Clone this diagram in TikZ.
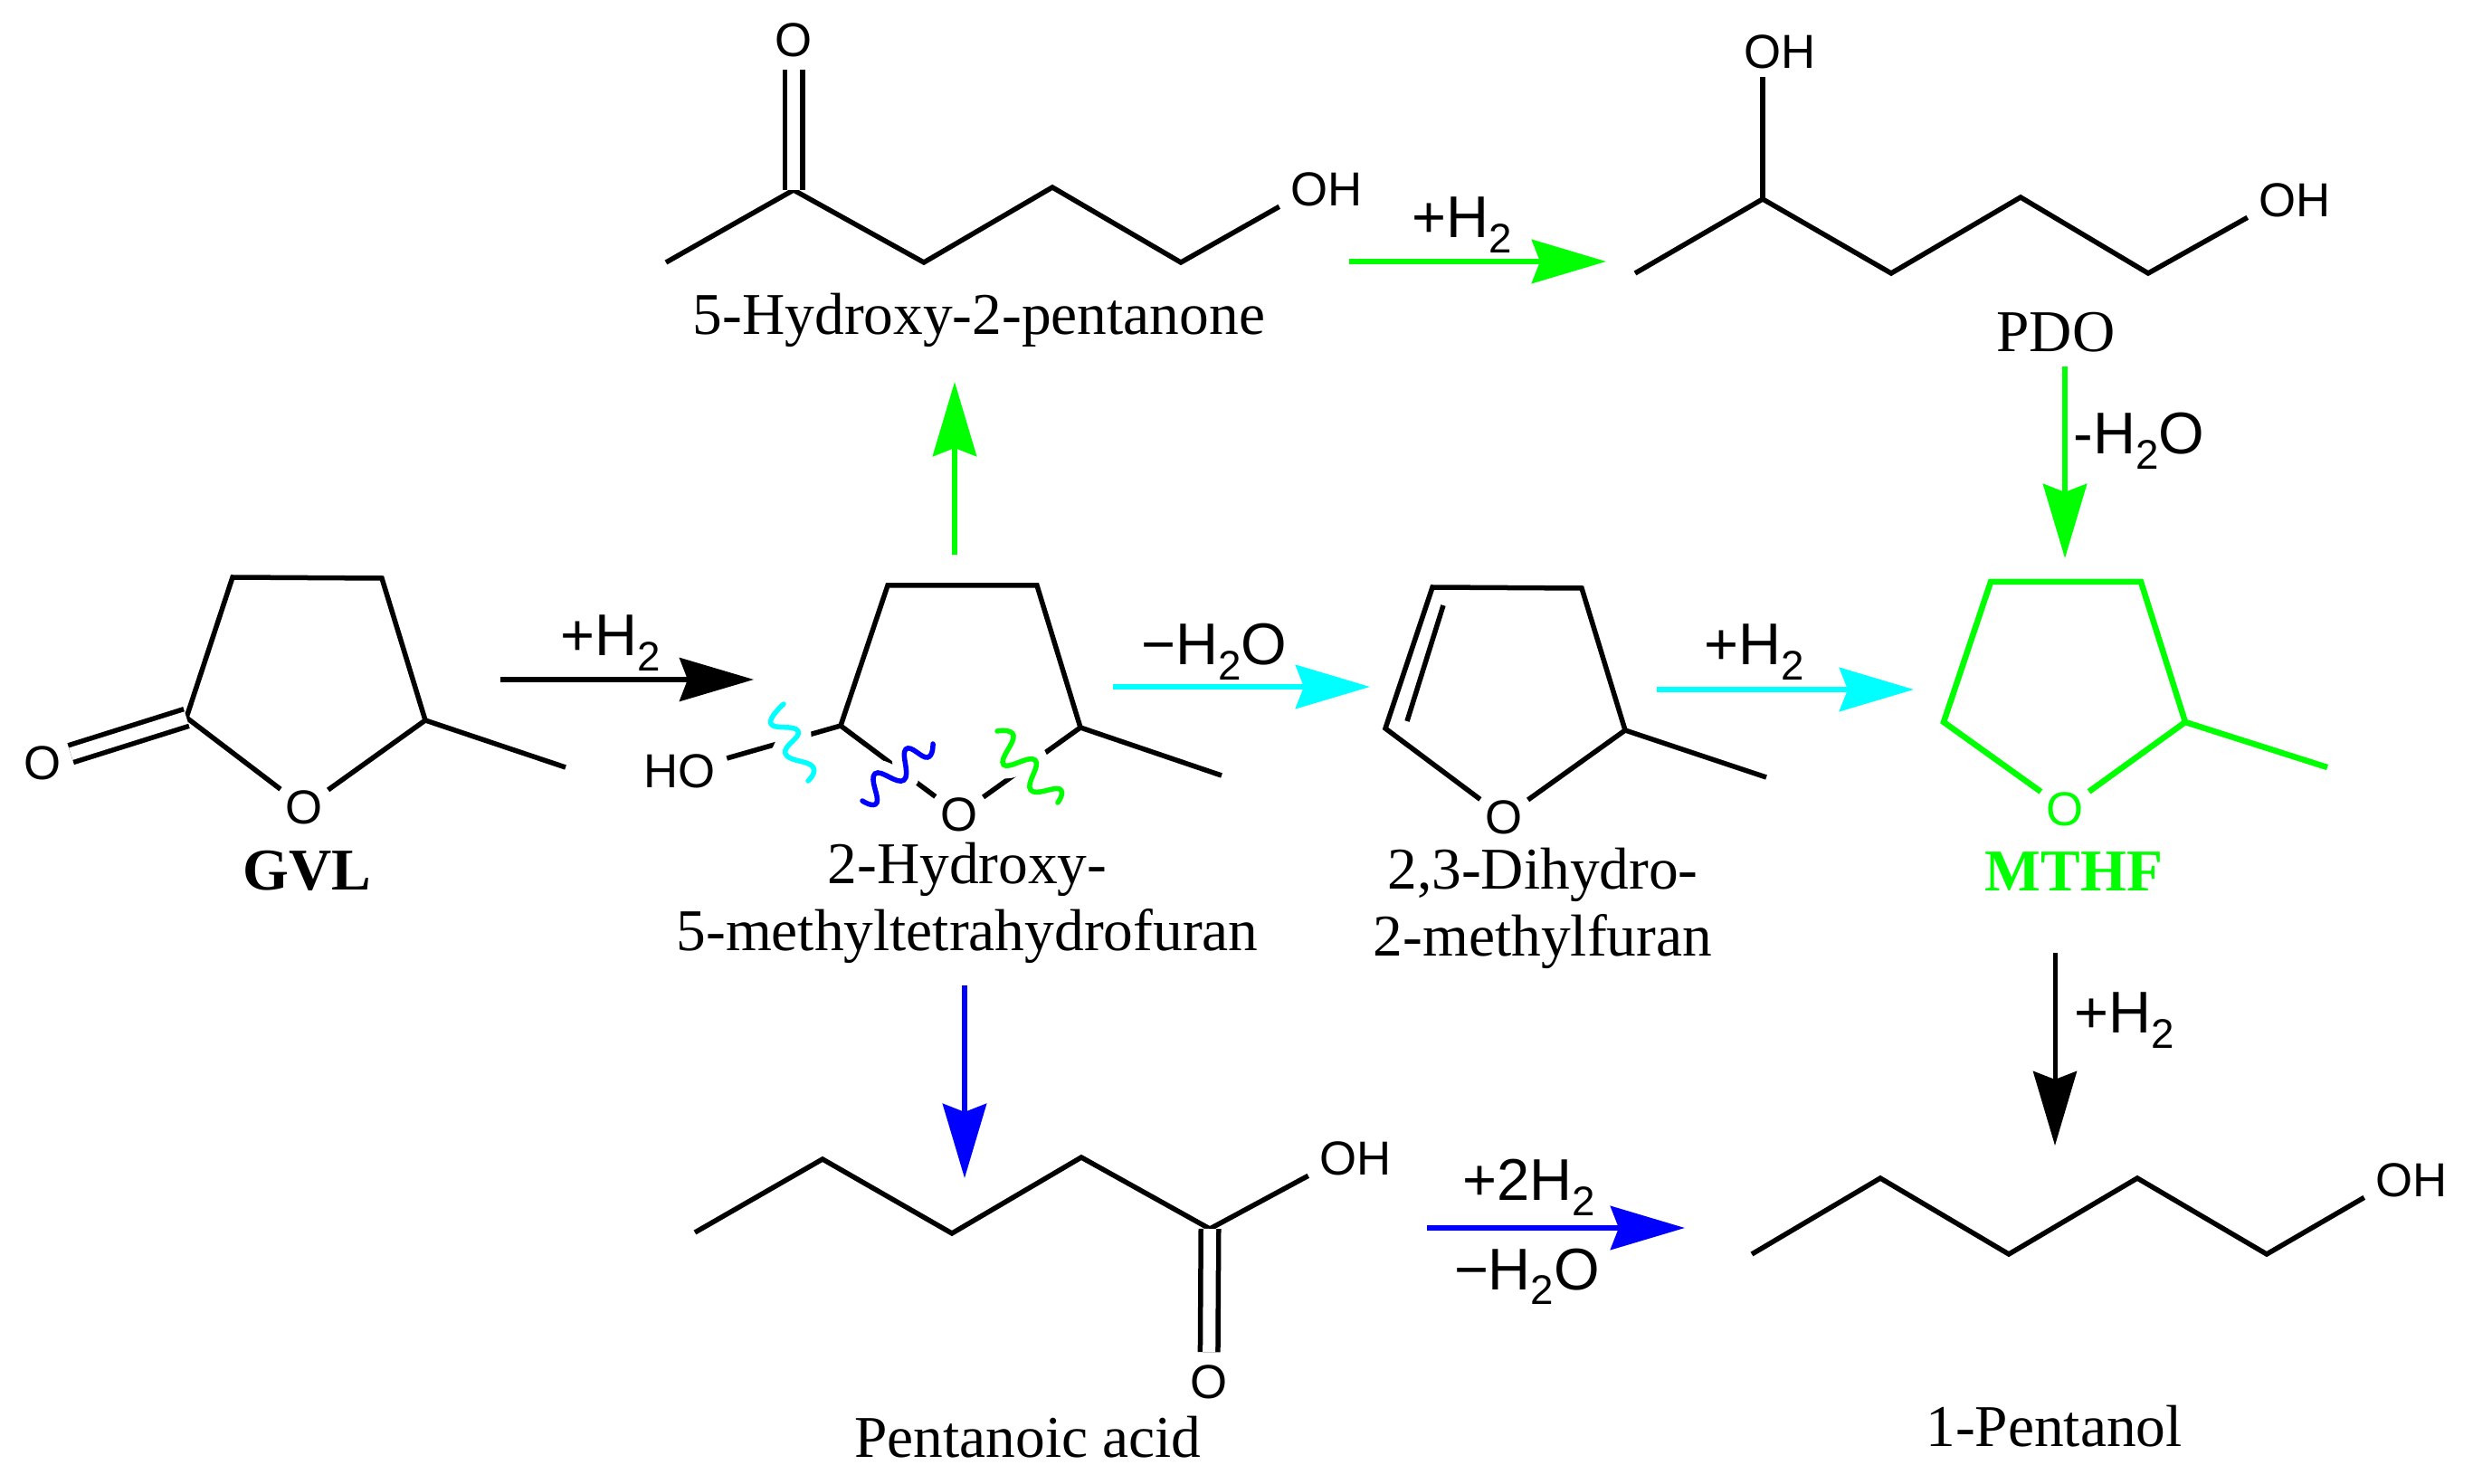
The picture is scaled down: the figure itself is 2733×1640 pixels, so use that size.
\documentclass[tikz,border=0pt]{standalone}
\usepackage{fontspec}
\setmainfont{Liberation Serif}
\newfontfamily\atomfamily{Liberation Sans}
\newcommand{\atomfont}{\atomfamily\fontsize{15}{16}\selectfont}
\newcommand{\stepfont}{\atomfamily\fontsize{18.5}{22}\selectfont}
\newcommand{\namefont}{\fontsize{18.6}{21}\selectfont}
\newcommand{\lowtwo}{\raisebox{-.26em}{\fontsize{13}{13}\selectfont 2}}
\definecolor{pathgreen}{rgb}{0.00,1.00,0.00}
\definecolor{pathcyan}{rgb}{0.00,1.00,1.00}
\definecolor{pathblue}{rgb}{0.00,0.00,1.00}
\usetikzlibrary{arrows.meta}

\begin{document}
\begin{tikzpicture}
    [x=.01cm,y=-.01cm,
      bond/.style={line width=.055cm},
      dbond/.style={bond,double,double distance=.14cm},
      atom/.style={circle,inner sep=0pt,minimum size=.64cm,font=\atomfont},
      hydroxy/.style={rectangle,inner xsep=.12cm,inner ysep=0pt,font=\atomfont},
      react/.style={-{Stealth[length=.82cm,width=.48cm,inset=.09cm]},line width=.05cm},
      creact/.style={react,line width=.065cm},
      steplabel/.style={anchor=base,inner sep=0pt,font=\stepfont,text=black},
      molname/.style={inner sep=0pt,font=\namefont,align=center},
      wave/.style={line width=.055cm,line cap=round,preaction={draw=white,line width=.28cm}}]

  \useasboundingbox (0,0) rectangle (2733,1640);

  \coordinate (gvl1) at (206,793);
  \coordinate (gvl2) at (257,638);
  \coordinate (gvl3) at (422,639);
  \coordinate (gvl4) at (470,796);
  \coordinate (gvl5) at (625,848);
  \node [atom] (gvlo) at (336,892) {O};
  \node [atom] (gvlco) at (47,843) {O};
  \draw [bond] (gvlo) -- (gvl1) -- (gvl2) -- (gvl3) -- (gvl4) -- (gvlo);
  \draw [bond] (gvl4) -- (gvl5);
  \draw [dbond] (gvl1) -- (gvlco);
  \node [molname,anchor=base,font=\namefont\bfseries] (gvlname) at (339,983) {GVL};

  \coordinate (hm1) at (929,802);
  \coordinate (hm2) at (981,647);
  \coordinate (hm3) at (1146,647);
  \coordinate (hm4) at (1194,804);
  \coordinate (hm5) at (1350,857);
  \node [atom] (hmo) at (1060,900) {O};
  \node [hydroxy] (hmho) at (751,852) {HO};
  \draw [bond] (hmo) -- (hm1) -- (hm2) -- (hm3) -- (hm4) -- (hmo);
  \draw [bond] (hm4) -- (hm5);
  \draw [bond] (hm1) -- (hmho.15);
  \draw [wave,pathcyan] plot [smooth,tension=.8] coordinates {(866,778) (852,800) (882,808) (868,833) (898,847) (893,863)};
  \draw [wave,pathblue] plot [smooth,tension=.8] coordinates {(1031,822) (1025,837) (1001,828) (999,862) (967,855) (969,887) (953,885)};
  \draw [wave,pathgreen] plot [smooth,tension=.8] coordinates {(1102,808) (1120,813) (1109,845) (1144,840) (1139,873) (1171,872) (1169,887)};
  \node [molname] (hmname) at (1069,998) {2-Hydroxy-\\5-methyltetrahydrofuran};

  \coordinate (dh1) at (1531,805);
  \coordinate (dh2) at (1583,649);
  \coordinate (dh3) at (1748,650);
  \coordinate (dh4) at (1796,807);
  \coordinate (dh5) at (1952,859);
  \coordinate (dh6) at (1595,669);
  \coordinate (dh7) at (1555,797);
  \node [atom] (dho) at (1662,903) {O};
  \draw [bond] (dho) -- (dh1) -- (dh2) -- (dh3) -- (dh4) -- (dho);
  \draw [bond] (dh4) -- (dh5);
  \draw [bond] (dh6) -- (dh7);
  \node [molname] (dhname) at (1705,1004) {2,3-Dihydro-\\2-methylfuran};

  \coordinate (mt1) at (2148,798);
  \coordinate (mt2) at (2200,643);
  \coordinate (mt3) at (2366,643);
  \coordinate (mt4) at (2415,798);
  \coordinate (mt5) at (2572,848);
  \node [atom,text=pathgreen] (mto) at (2282,894) {O};
  \draw [bond,line width=.065cm,pathgreen] (mto) -- (mt1) -- (mt2) -- (mt3) -- (mt4) -- (mto);
  \draw [bond,line width=.065cm,pathgreen] (mt4) -- (mt5);
  \node [molname,anchor=base,font=\namefont\bfseries,text=pathgreen] (mtname) at (2292,984) {MTHF};

  \coordinate (hp1) at (736,290);
  \coordinate (hp2) at (877,210);
  \coordinate (hp3) at (1021,290);
  \coordinate (hp4) at (1163,207);
  \coordinate (hp5) at (1305,290);
  \node [atom] (hpo) at (877,44) {O};
  \node [hydroxy] (hpoh) at (1466,209) {OH};
  \draw [bond] (hp1) -- (hp2) -- (hp3) -- (hp4) -- (hp5) -- (hpoh.south west);
  \draw [dbond] (hp2) -- (hpo);
  \node [molname,anchor=base] (hpname) at (1082,370) {5-Hydroxy-2-pentanone};

  \coordinate (pd1) at (1807,302);
  \coordinate (pd2) at (1948,220);
  \coordinate (pd3) at (2090,302);
  \coordinate (pd4) at (2233,218);
  \coordinate (pd5) at (2374,302);
  \node [hydroxy] (pdoh1) at (1967,57) {OH};
  \node [hydroxy] (pdoh2) at (2536,221) {OH};
  \draw [bond] (pd1) -- (pd2) -- (pd3) -- (pd4) -- (pd5) -- (pdoh2.south west);
  \draw [bond,shorten >=.09cm] (pd2) -- (pdoh1.south -| pd2);
  \node [molname,anchor=base] (pdname) at (2272,389) {PDO};

  \coordinate (pa1) at (768,1362);
  \coordinate (pa2) at (909,1281);
  \coordinate (pa3) at (1052,1363);
  \coordinate (pa4) at (1195,1279);
  \coordinate (pa5) at (1337,1358);
  \node [atom] (pao) at (1336,1527) {O};
  \node [hydroxy] (paoh) at (1498,1280) {OH};
  \draw [bond] (pa1) -- (pa2) -- (pa3) -- (pa4) -- (pa5) -- (paoh.south west);
  \draw [dbond] (pa5) -- (pao);
  \node [molname,anchor=base] (paname) at (1136,1610) {Pentanoic acid};

  \coordinate (pl1) at (1936,1386);
  \coordinate (pl2) at (2078,1302);
  \coordinate (pl3) at (2220,1386);
  \coordinate (pl4) at (2362,1302);
  \coordinate (pl5) at (2505,1386);
  \node [hydroxy] (ploh) at (2665,1304) {OH};
  \draw [bond] (pl1) -- (pl2) -- (pl3) -- (pl4) -- (pl5) -- (ploh.south west);
  \node [molname,anchor=base] (plname) at (2270,1598) {1-Pentanol};

  \coordinate (gvlout) at (553,751);
  \coordinate (hmin) at (833,751);
  \coordinate (hmup) at (1055,613);
  \coordinate (hpin) at (1055,422);
  \coordinate (hpout) at (1491,289);
  \coordinate (pdin) at (1775,289);
  \coordinate (pdout) at (2282,405);
  \coordinate (mtin) at (2282,617);
  \coordinate (hmout) at (1230,759);
  \coordinate (dhin) at (1514,759);
  \coordinate (dhout) at (1831,762);
  \coordinate (mtleft) at (2115,762);
  \coordinate (hmdown) at (1066,1089);
  \coordinate (patop) at (1066,1302);
  \coordinate (paout) at (1577,1357);
  \coordinate (plleft) at (1862,1357);
  \coordinate (mtout) at (2271,1053);
  \coordinate (pltop) at (2271,1266);

  \draw [react] (gvlout) -- (hmin) node (lbla) [steplabel,midway,xshift=-.18cm,yshift=.26cm] {+H\lowtwo};
  \draw [creact,pathgreen] (hmup) -- (hpin);
  \draw [creact,pathgreen] (hpout) -- (pdin) node (lblb) [steplabel,midway,xshift=-.17cm,yshift=.26cm] {+H\lowtwo};
  \draw [creact,pathgreen] (pdout) -- (mtin) node (lblc) [steplabel,midway,xshift=.82cm,yshift=.09cm] {-H\lowtwo O};
  \draw [creact,pathcyan] (hmout) -- (dhin) node (lbld) [steplabel,midway,xshift=-.30cm,yshift=.24cm] {−H\lowtwo O};
  \draw [creact,pathcyan] (dhout) -- (mtleft) node (lble) [steplabel,midway,xshift=-.34cm,yshift=.27cm] {+H\lowtwo};
  \draw [creact,pathblue] (hmdown) -- (patop);
  \draw [creact,pathblue] (paout) -- (plleft)
    node (lblf) [steplabel,midway,xshift=-.30cm,yshift=.30cm] {+2H\lowtwo}
    node (lblg) [steplabel,midway,xshift=-.32cm,yshift=-.68cm] {−H\lowtwo O};
  \draw [react] (mtout) -- (pltop) node (lblh) [steplabel,midway,xshift=.77cm,yshift=.175cm] {+H\lowtwo};
\end{tikzpicture}
\end{document}
